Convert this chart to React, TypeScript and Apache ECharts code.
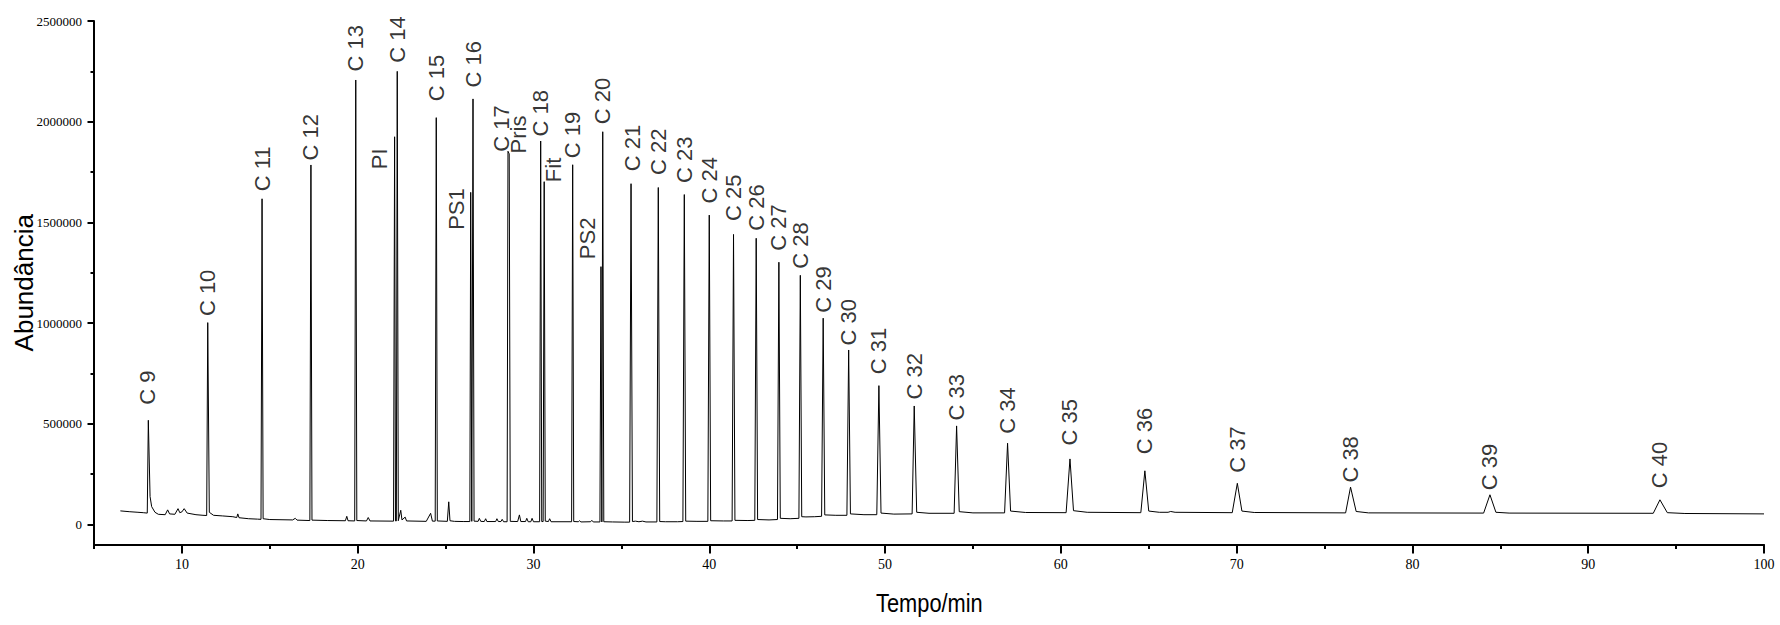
import React, { useEffect, useRef } from "react";
import * as echarts from "echarts";

// ---- Data ----
const peakNames = [
  "C 9", "C 10", "C 11", "C 12", "C 13", "PI", "C 14", "C 15", "PS1", "C 16",
  "C 17", "Pris", "C 18", "Fit", "C 19", "PS2", "C 20", "C 21", "C 22", "C 23",
  "C 24", "C 25", "C 26", "C 27", "C 28", "C 29", "C 30", "C 31", "C 32", "C 33",
  "C 34", "C 35", "C 36", "C 37", "C 38", "C 39", "C 40",
];
const peakTimes = [
  8.09, 11.47, 14.56, 17.34, 19.89, 22.1, 22.25, 24.47, 26.43, 26.56,
  28.55, 28.62, 30.41, 30.61, 32.23, 33.84, 33.94, 35.55, 37.1, 38.58,
  40.0, 41.38, 42.67, 43.96, 45.18, 46.48, 47.93, 49.65, 51.66, 54.07,
  56.97, 60.52, 64.78, 70.04, 76.48, 84.41, 94.08,
];
const peakHeights = [
  517000, 1002000, 1617000, 1785000, 2207000, 1925000, 2250000, 2020000, 1649000, 2113000,
  1853000, 1840000, 1904000, 1702000, 1786000, 1280000, 1950000, 1692000, 1673000, 1638000,
  1536000, 1440000, 1421000, 1302000, 1237000, 1024000, 866000, 689000, 588000, 489000,
  403000, 325000, 266000, 204000, 185000, 147000, 122000,
];

// baseline trace (time, abundance) incl. peak feet, tails and small unlabeled peaks
const baseline: [number, number][] = [
  [6.5, 67000], [7.0, 63000], [7.5, 60000], [7.8, 58000], [8.03, 56000],
  [8.19, 138000], [8.28, 88000], [8.47, 60000], [8.66, 50000],
  [9.05, 48000], [9.19, 72000], [9.3, 52000], [9.6, 50000], [9.78, 78000], [9.88, 58000],
  [10.0, 62000], [10.13, 78000], [10.3, 56000], [10.8, 48000], [11.2, 45000], [11.41, 44000],
  [11.56, 60000], [11.8, 45000], [12.3, 42000], [12.9, 38000], [13.12, 34000], [13.18, 52000],
  [13.25, 33000], [13.8, 28000], [14.3, 26000], [14.5, 25000], [14.62, 28000], [15.0, 24000],
  [16.3, 22000], [16.45, 30000], [16.55, 21000], [17.28, 19000], [17.4, 21000], [18.3, 19000],
  [19.3, 18000], [19.38, 40000], [19.45, 18000], [19.83, 17000], [19.95, 19000], [20.5, 17000],
  [20.6, 34000], [20.7, 17000], [22.04, 16000], [22.15, 17000], [22.2, 17000], [22.31, 18000],
  [22.45, 70000], [22.52, 22000], [22.7, 36000], [22.78, 17000], [23.9, 15000], [24.15, 55000],
  [24.25, 16000], [24.41, 16000], [24.53, 17000], [25.1, 15000], [25.18, 112000], [25.25, 18000],
  [25.5, 15000], [26.0, 14000], [26.38, 14000], [26.49, 15000], [26.62, 16000], [26.85, 15000],
  [26.92, 30000], [27.0, 15000], [27.2, 14000], [27.28, 28000], [27.35, 14000], [27.85, 14000],
  [27.92, 28000], [28.0, 14000], [28.15, 14000], [28.22, 25000], [28.3, 13000], [28.5, 13000],
  [28.68, 15000], [29.1, 14000], [29.2, 47000], [29.28, 14000], [29.55, 14000], [29.62, 30000],
  [29.7, 13000], [29.85, 13000], [29.92, 30000], [30.0, 13000], [30.35, 13000], [30.47, 14000],
  [30.55, 14000], [30.67, 16000], [30.85, 14000], [30.92, 28000], [31.0, 13000], [32.17, 13000],
  [32.29, 14000], [32.55, 13000], [32.62, 18000], [32.7, 12000], [33.25, 13000], [33.32, 20000],
  [33.4, 12000], [33.78, 12000], [33.89, 12000], [34.0, 13000], [34.5, 12000], [35.2, 11000],
  [35.47, 11000], [35.63, 14000], [35.8, 16000], [36.0, 13000], [36.2, 16000], [36.4, 12000],
  [37.02, 12000], [37.18, 14000], [37.5, 13000], [38.2, 13000], [38.5, 14000], [38.66, 16000],
  [39.3, 15000], [39.92, 15000], [40.08, 18000], [40.8, 17000], [41.3, 17000], [41.46, 20000],
  [42.2, 19000], [42.59, 20000], [42.75, 24000], [43.4, 22000], [43.88, 24000], [44.04, 30000],
  [44.6, 28000], [45.1, 30000], [45.26, 38000], [45.5, 37000], [46.0, 38000], [46.39, 40000],
  [46.57, 47000], [47.2, 45000], [47.83, 45000], [48.03, 52000], [48.8, 48000], [49.53, 48000],
  [49.77, 56000], [50.5, 51000], [51.54, 52000], [51.8, 60000], [52.5, 55000], [53.93, 55000],
  [54.22, 63000], [55.0, 57000], [56.8, 57000], [57.14, 66000], [58.0, 59000], [60.3, 58000],
  [60.72, 68000], [61.5, 60000], [64.55, 58000], [65.0, 66000], [65.6, 60000], [66.1, 60000],
  [66.25, 64000], [66.5, 60000], [69.75, 58000], [70.3, 66000], [71.0, 59000], [76.2, 57000],
  [76.8, 64000], [77.5, 57000], [84.05, 56000], [84.75, 60000], [85.5, 56000], [93.7, 55000],
  [94.5, 58000], [95.5, 54000], [100, 52000],
];

const xMajorTicks = [10, 20, 30, 40, 50, 60, 70, 80, 90, 100];
const xMinorTicks = [5, 15, 25, 35, 45, 55, 65, 75, 85, 95];
const yMajorTicks = [0, 500000, 1000000, 1500000, 2000000, 2500000];
const yMinorTicks = [250000, 750000, 1250000, 1750000, 2250000];

// label placement tweaks in screen px: [dx, dy] relative to 4px above the peak top
const labelNudge: Record<string, [number, number]> = {
  "C 9": [-1, -11], "C 10": [0, -2], "C 11": [0, -3], "C 13": [0, -4], PI: [-15, 37],
  "C 14": [0, -4], "C 15": [0, -12], PS1: [-14, 42], "C 16": [0, -7], "C 17": [-6, 5],
  Pris: [9, 4], Fit: [9, 5], "C 19": [0, -2], PS2: [-13, -3], "C 20": [0, -3],
  "C 21": [1, -8], "C 22": [0, -8], "C 23": [0, -7], "C 24": [0, -7], "C 25": [0, -9],
  "C 26": [0, -3], "C 27": [0, -7], "C 28": [0, -2], "C 29": [0, -1], "C 31": [0, -7],
  "C 32": [0, -2], "C 33": [0, -1], "C 34": [0, -5], "C 35": [0, -9], "C 36": [0, -12],
  "C 37": [0, -6], "C 40": [0, -7],
};

export default function App() {
  const ref = useRef<HTMLDivElement>(null);

  useEffect(() => {
    if (!ref.current) return;
    const chart = echarts.init(ref.current, null, { renderer: "svg" });

    const lineData = [
      ...baseline.map((p) => [p[0], p[1]]),
      ...peakTimes.map((t, i) => [t, peakHeights[i]]),
    ].sort((a, b) => a[0] - b[0]);

    // label offset is applied in the rotated (90°) text frame: local x = up, local y = right
    const labelData = peakNames.map((name, i) => {
      const n = labelNudge[name] || [0, 0];
      return {
        name,
        value: [peakTimes[i], peakHeights[i]],
        label: { offset: [-n[1], n[0]] },
      };
    });

    const serif = "'Liberation Serif', 'Times New Roman', serif";
    const sans = "'Liberation Sans', Arial, sans-serif";

    const xBase = {
      type: "value" as const,
      min: 5,
      max: 100,
      position: "bottom" as const,
      splitLine: { show: false },
    };
    const yBase = {
      type: "value" as const,
      min: -100000,
      max: 2500000,
      position: "left" as const,
      splitLine: { show: false },
    };

    chart.setOption({
      animation: false,
      backgroundColor: "#ffffff",
      grid: {
        left: 94,
        right: 16,
        top: 21,
        bottom: 80.5,
        containLabel: false,
        outerBoundsMode: "none",
      },
      graphic: [
        {
          type: "text",
          left: 876,
          top: 590,
          scaleX: 0.84,
          silent: true,
          style: {
            text: "Tempo/min",
            fontFamily: sans,
            fontSize: 26,
            fill: "#000",
          },
        },
      ],
      xAxis: [
        {
          ...xBase,
          axisLine: { show: true, onZero: false, lineStyle: { color: "#000", width: 2 } },
          axisTick: { show: true, customValues: xMajorTicks, length: 9, lineStyle: { color: "#000", width: 2 } },
          axisLabel: {
            show: true,
            customValues: xMajorTicks,
            formatter: (v: number) => String(v),
            fontFamily: serif,
            fontSize: 14,
            color: "#000",
            margin: 13,
          },
        },
        {
          ...xBase,
          axisLine: { show: false, onZero: false },
          axisTick: { show: true, customValues: xMinorTicks, length: 4.5, lineStyle: { color: "#000", width: 2 } },
          axisLabel: { show: false },
        },
      ],
      yAxis: [
        {
          ...yBase,
          axisLine: { show: true, onZero: false, lineStyle: { color: "#000", width: 2 } },
          axisTick: { show: true, customValues: yMajorTicks, length: 6.5, lineStyle: { color: "#000", width: 2 } },
          axisLabel: {
            show: true,
            customValues: yMajorTicks,
            formatter: (v: number) => String(v),
            fontFamily: serif,
            fontSize: 13,
            color: "#000",
            margin: 12,
          },
          name: "Abundância",
          nameLocation: "middle",
          nameGap: 57,
          nameMoveOverlap: false,
          nameTextStyle: { fontFamily: sans, fontSize: 26, color: "#000" },
        },
        {
          ...yBase,
          axisLine: { show: false, onZero: false },
          axisTick: { show: true, customValues: yMinorTicks, length: 3.5, lineStyle: { color: "#000", width: 2 } },
          axisLabel: { show: false },
        },
      ],
      series: [
        {
          type: "line",
          xAxisIndex: 0,
          yAxisIndex: 0,
          data: lineData,
          showSymbol: false,
          symbol: "none",
          silent: true,
          lineStyle: { color: "#000", width: 1 },
          z: 2,
        },
        {
          type: "scatter",
          xAxisIndex: 0,
          yAxisIndex: 0,
          data: labelData,
          symbolSize: 1,
          silent: true,
          itemStyle: { color: "rgba(0,0,0,0)" },
          label: {
            show: true,
            formatter: "{b}",
            position: "top",
            distance: 4,
            rotate: 90,
            align: "left",
            verticalAlign: "middle",
            fontFamily: sans,
            fontSize: 22,
            color: "#000",
          },
          z: 3,
        },
      ],
    });

    return () => chart.dispose();
  }, []);

  return (
    <div
      ref={ref}
      style={{ position: "fixed", left: 0, top: 0, width: 1780, height: 625, background: "#fff" }}
    />
  );
}
